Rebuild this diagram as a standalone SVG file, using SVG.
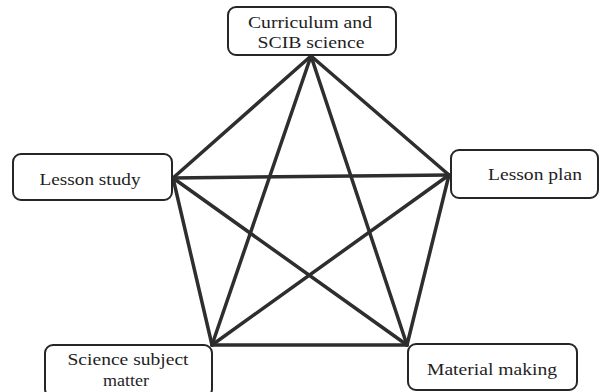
<svg xmlns="http://www.w3.org/2000/svg" width="611" height="392" viewBox="0 0 611 392">
<style>
.box{fill:#fff;stroke:#262626;stroke-width:2}
.lbl{font-family:'Liberation Serif','DejaVu Serif','Times New Roman',serif;font-size:17px;fill:#1e1e1e;text-anchor:middle}
.edge{stroke:#2e2e2e;stroke-width:3.5;stroke-linecap:round;fill:none}
</style>
<rect width="611" height="392" fill="#fff"/>
<g id="connectors">
<line class="edge" x1="311" y1="56" x2="173" y2="178"/>
<line class="edge" x1="311" y1="56" x2="449" y2="175"/>
<line class="edge" x1="311" y1="56" x2="212" y2="345"/>
<line class="edge" x1="311" y1="56" x2="407" y2="345"/>
<line class="edge" x1="173" y1="178" x2="449" y2="175"/>
<line class="edge" x1="173" y1="178" x2="212" y2="345"/>
<line class="edge" x1="173" y1="178" x2="407" y2="345"/>
<line class="edge" x1="449" y1="175" x2="212" y2="345"/>
<line class="edge" x1="449" y1="175" x2="407" y2="345"/>
<line class="edge" x1="212" y1="345" x2="407" y2="345"/>
</g>
<g id="curriculum">
<rect class="box" x="228" y="7" width="168" height="48" rx="8"/>
<text class="lbl" x="310" y="28" textLength="124" lengthAdjust="spacingAndGlyphs">Curriculum and</text>
<text class="lbl" x="311" y="48" textLength="107" lengthAdjust="spacingAndGlyphs">SCIB science</text>
</g>
<g id="lesson-study">
<rect class="box" x="13" y="154" width="159" height="46" rx="8"/>
<text class="lbl" x="90" y="185" textLength="101" lengthAdjust="spacingAndGlyphs">Lesson study</text>
</g>
<g id="lesson-plan">
<rect class="box" x="451" y="150" width="147" height="48" rx="8"/>
<text class="lbl" x="535" y="180" textLength="94" lengthAdjust="spacingAndGlyphs">Lesson plan</text>
</g>
<g id="science-subject">
<rect class="box" x="45" y="345" width="167" height="52" rx="8"/>
<text class="lbl" x="128" y="365" textLength="121" lengthAdjust="spacingAndGlyphs">Science subject</text>
<text class="lbl" x="126" y="386" textLength="46" lengthAdjust="spacingAndGlyphs">matter</text>
</g>
<g id="material-making">
<rect class="box" x="408" y="344" width="169" height="46" rx="8"/>
<text class="lbl" x="492" y="375" textLength="130" lengthAdjust="spacingAndGlyphs">Material making</text>
</g>
</svg>
